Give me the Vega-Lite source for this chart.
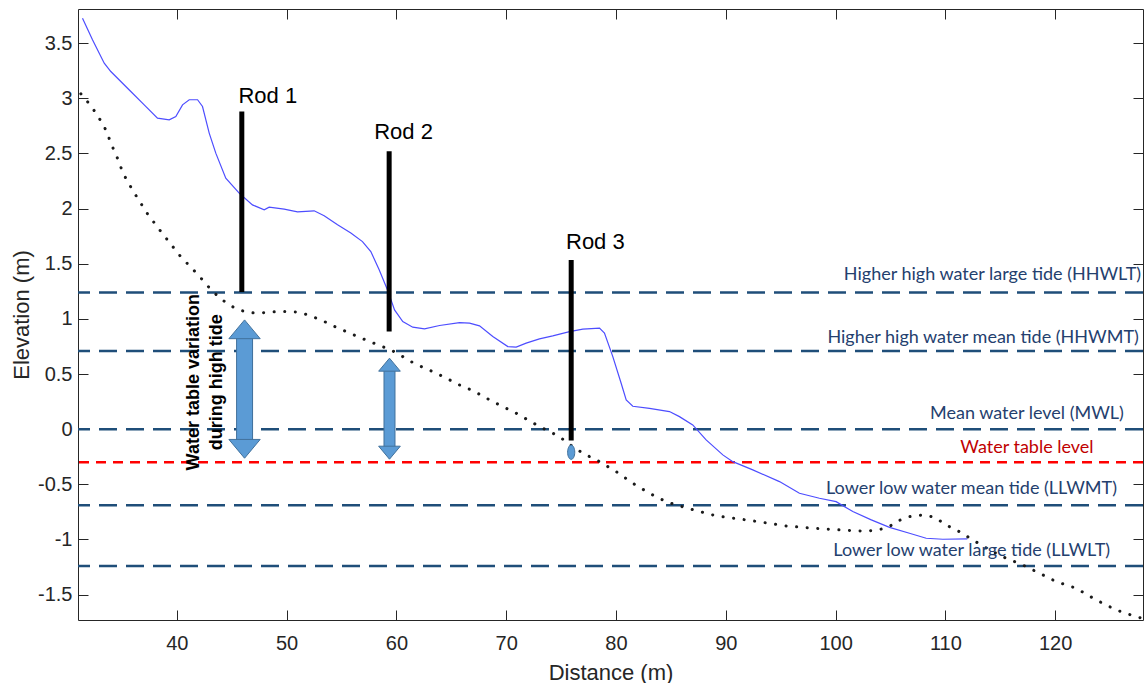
{
  "$schema": "https://vega.github.io/schema/vega-lite/v6.json",
  "autosize": {"type": "none"},
  "padding": {"left": 78, "top": 9, "right": 1, "bottom": 63},
  "width": 1065,
  "height": 611,
  "background": "white",
  "config": {
    "view": {"stroke": null},
    "axis": {
      "grid": false,
      "domainColor": "#262626",
      "tickColor": "#262626",
      "labelColor": "#262626",
      "titleColor": "#262626",
      "labelFont": "Liberation Sans",
      "titleFont": "Liberation Sans",
      "labelFontSize": 20,
      "titleFontSize": 22,
      "titleFontWeight": "normal",
      "tickSize": -10,
      "domainWidth": 1,
      "tickWidth": 1
    }
  },
  "datasets": {
    "profile": [
      {"x":31.41,"y":3.727},{"x":32.32,"y":3.531},{"x":33.39,"y":3.319},{"x":33.99,"y":3.243},{"x":35.81,"y":3.062},{"x":37.03,"y":2.941},{"x":38.24,"y":2.820},{"x":39.31,"y":2.805},{"x":39.91,"y":2.835},{"x":40.52,"y":2.941},{"x":41.13,"y":2.987},{"x":41.89,"y":2.987},{"x":42.34,"y":2.926},{"x":42.95,"y":2.685},{"x":43.55,"y":2.503},{"x":44.46,"y":2.276},{"x":45.68,"y":2.140},{"x":46.89,"y":2.034},{"x":47.96,"y":1.989},{"x":48.41,"y":2.013},{"x":49.78,"y":1.995},{"x":50.99,"y":1.971},{"x":52.51,"y":1.980},{"x":53.42,"y":1.935},{"x":54.64,"y":1.853},{"x":55.85,"y":1.778},{"x":56.91,"y":1.701},{"x":57.67,"y":1.611},{"x":58.43,"y":1.445},{"x":59.19,"y":1.263},{"x":59.83,"y":1.082},{"x":60.58,"y":0.976},{"x":61.49,"y":0.925},{"x":62.56,"y":0.910},{"x":63.93,"y":0.940},{"x":65.75,"y":0.967},{"x":66.66,"y":0.961},{"x":67.57,"y":0.937},{"x":68.78,"y":0.840},{"x":70.15,"y":0.749},{"x":70.91,"y":0.744},{"x":71.82,"y":0.780},{"x":73.03,"y":0.819},{"x":74.24,"y":0.846},{"x":75.77,"y":0.885},{"x":76.98,"y":0.907},{"x":78.50,"y":0.916},{"x":78.95,"y":0.871},{"x":79.71,"y":0.658},{"x":80.47,"y":0.417},{"x":80.93,"y":0.266},{"x":81.53,"y":0.208},{"x":83.05,"y":0.188},{"x":84.87,"y":0.160},{"x":85.78,"y":0.114},{"x":86.99,"y":0.039},{"x":88.21,"y":-0.097},{"x":89.73,"y":-0.233},{"x":90.64,"y":-0.294},{"x":92.46,"y":-0.369},{"x":94.89,"y":-0.475},{"x":96.71,"y":-0.581},{"x":98.53,"y":-0.626},{"x":100.05,"y":-0.657},{"x":101.57,"y":-0.747},{"x":103.2,"y":-0.82},{"x":104.91,"y":-0.89},{"x":106.73,"y":-0.943},{"x":108.25,"y":-0.989},{"x":109.77,"y":-0.998},{"x":112.0,"y":-0.995}
    ],
    "watertable": [
      {"x":31.26,"y":3.041},{"x":31.93,"y":2.962},{"x":32.53,"y":2.881},{"x":33.02,"y":2.805},{"x":33.39,"y":2.744},{"x":33.75,"y":2.660},{"x":33.99,"y":2.594},{"x":34.66,"y":2.442},{"x":35.05,"y":2.334},{"x":35.51,"y":2.246},{"x":36.42,"y":2.095},{"x":37.33,"y":1.953},{"x":38.31,"y":1.823},{"x":39.31,"y":1.696},{"x":40.28,"y":1.574},{"x":41.13,"y":1.484},{"x":41.95,"y":1.399},{"x":42.80,"y":1.300},{"x":43.70,"y":1.209},{"x":44.74,"y":1.127},{"x":45.56,"y":1.088},{"x":46.32,"y":1.061},{"x":47.23,"y":1.052},{"x":48.14,"y":1.058},{"x":49.20,"y":1.067},{"x":50.11,"y":1.067},{"x":51.02,"y":1.061},{"x":51.93,"y":1.037},{"x":52.70,"y":1.007},{"x":53.45,"y":0.976},{"x":54.36,"y":0.931},{"x":55.43,"y":0.885},{"x":56.48,"y":0.840},{"x":57.55,"y":0.795},{"x":58.76,"y":0.748},{"x":59.67,"y":0.710},{"x":60.58,"y":0.658},{"x":61.49,"y":0.604},{"x":62.40,"y":0.562},{"x":63.62,"y":0.508},{"x":64.84,"y":0.447},{"x":66.05,"y":0.386},{"x":66.96,"y":0.350},{"x":68.78,"y":0.250},{"x":70.91,"y":0.145},{"x":73.03,"y":0.024},{"x":74.85,"y":-0.067},{"x":75.61,"y":-0.127},{"x":76.98,"y":-0.218},{"x":78.50,"y":-0.294},{"x":80.02,"y":-0.385},{"x":81.53,"y":-0.490},{"x":83.05,"y":-0.581},{"x":84.57,"y":-0.657},{"x":85.78,"y":-0.696},{"x":87.30,"y":-0.738},{"x":89.13,"y":-0.786},{"x":91.25,"y":-0.814},{"x":93.37,"y":-0.844},{"x":95.50,"y":-0.877},{"x":97.92,"y":-0.898},{"x":100.36,"y":-0.913},{"x":102.79,"y":-0.925},{"x":104.0,"y":-0.91},{"x":104.91,"y":-0.883},{"x":105.52,"y":-0.838},{"x":106.73,"y":-0.793},{"x":107.94,"y":-0.777},{"x":109.01,"y":-0.798},{"x":110.07,"y":-0.868},{"x":111.28,"y":-0.929},{"x":112.50,"y":-1.004},{"x":114.02,"y":-1.095},{"x":115.54,"y":-1.170},{"x":117.05,"y":-1.231},{"x":118.57,"y":-1.306},{"x":120.09,"y":-1.382},{"x":121.91,"y":-1.442},{"x":123.73,"y":-1.548},{"x":125.55,"y":-1.639},{"x":127.37,"y":-1.700},{"x":127.92,"y":-1.714}
    ],
    "levels": [
      {"name":"Higher high water large tide (HHWLT)","kind":"tide","value":1.24,"lx":114.29,"ly":1.354},
      {"name":"Higher high water mean tide (HHWMT)","kind":"tide","value":0.71,"lx":113.44,"ly":0.785},
      {"name":"Mean water level (MWL)","kind":"tide","value":0.0,"lx":117.43,"ly":0.09},
      {"name":"Water table level","kind":"water","value":-0.30,"lx":117.43,"ly":-0.212},
      {"name":"Lower low water mean tide (LLWMT)","kind":"tide","value":-0.69,"lx":112.38,"ly":-0.59},
      {"name":"Lower low water large tide (LLWLT)","kind":"tide","value":-1.24,"lx":112.4,"ly":-1.149}
    ],
    "rods": [
      {"rod":"Rod 1","x":45.92,"top":2.88,"bottom":1.245,"lx":48.29,"ly":2.957},
      {"rod":"Rod 2","x":59.34,"top":2.52,"bottom":0.885,"lx":60.65,"ly":2.63},
      {"rod":"Rod 3","x":75.92,"top":1.535,"bottom":-0.103,"lx":78.12,"ly":1.632}
    ],
    "shafts": [
      {"arrow":"A1","x":46.17,"y":0.86,"y2":-0.13},
      {"arrow":"A2","x":59.37,"y":0.53,"y2":-0.17}
    ],
    "heads": [
      {"arrow":"A1","end":"top","x":46.17,"y":0.991},
      {"arrow":"A1","end":"bottom","x":46.17,"y":-0.263},
      {"arrow":"A2","end":"top","x":59.37,"y":0.644},
      {"arrow":"A2","end":"bottom","x":59.37,"y":-0.272}
    ],
    "marker": [{"x":75.92,"y":-0.209}],
    "note": [{"text":"Water table variation\nduring high tide","x":41.55,"y":0.426}]
  },
  "resolve": {
    "axis": {"x": "independent", "y": "independent"},
    "scale": {"size": "independent", "shape": "independent"}
  },
  "layer": [
    {
      "data": {"name": "levels"},
      "transform": [{"filter": "datum.kind === 'tide'"}],
      "mark": {"type": "rule", "color": "#1f4e79", "strokeWidth": 2.5, "strokeDash": [18, 9]},
      "encoding": {
        "y": {
          "field": "value", "type": "quantitative",
          "scale": {"domain": [-1.73, 3.81], "nice": false, "zero": false},
          "axis": {
            "orient": "left",
            "title": "Elevation (m)",
            "values": [-1.5, -1, -0.5, 0, 0.5, 1, 1.5, 2, 2.5, 3, 3.5],
            "labelExpr": "datum.value < 0 ? '-' + format(abs(datum.value), '~g') : format(datum.value, '~g')",
            "labelFontSize": 20,
            "titleFontSize": 22,
            "labelPadding": 16,
            "titlePadding": 4
          }
        }
      }
    },
    {
      "data": {"name": "levels"},
      "transform": [{"filter": "datum.kind === 'water'"}],
      "mark": {"type": "rule", "color": "#ff0000", "strokeWidth": 2.5, "strokeDash": [10, 7]},
      "encoding": {
        "y": {
          "field": "value", "type": "quantitative",
          "axis": {"orient": "right", "labels": false, "title": null, "domain": true,
                   "values": [-1.5, -1, -0.5, 0, 0.5, 1, 1.5, 2, 2.5, 3, 3.5]}
        }
      }
    },
    {
      "data": {"name": "profile"},
      "mark": {"type": "line", "color": "#4d4dff", "strokeWidth": 1.2},
      "encoding": {
        "x": {
          "field": "x", "type": "quantitative",
          "scale": {"domain": [31, 128], "nice": false, "zero": false},
          "axis": {
            "orient": "bottom",
            "title": "Distance (m)",
            "values": [40, 50, 60, 70, 80, 90, 100, 110, 120],
            "labelFontSize": 20,
            "titleFontSize": 22,
            "labelPadding": 23,
            "titlePadding": 9
          }
        },
        "y": {"field": "y", "type": "quantitative", "axis": null}
      }
    },
    {
      "data": {"name": "watertable"},
      "mark": {"type": "line", "color": "#1a1a1a", "strokeWidth": 3, "strokeDash": [0.1, 10.5], "strokeCap": "round"},
      "encoding": {
        "x": {
          "field": "x", "type": "quantitative",
          "axis": {"orient": "top", "labels": false, "title": null, "domain": true,
                   "values": [40, 50, 60, 70, 80, 90, 100, 110, 120]}
        },
        "y": {"field": "y", "type": "quantitative", "axis": null}
      }
    },
    {
      "data": {"name": "rods"},
      "mark": {"type": "rule", "color": "black", "strokeWidth": 5},
      "encoding": {
        "x": {"field": "x", "type": "quantitative", "axis": null},
        "y": {"field": "top", "type": "quantitative", "axis": null},
        "y2": {"field": "bottom"}
      }
    },
    {
      "data": {"name": "rods"},
      "mark": {"type": "text", "font": "Liberation Sans", "fontSize": 22, "color": "black", "align": "center", "baseline": "alphabetic"},
      "encoding": {
        "x": {"field": "lx", "type": "quantitative", "axis": null},
        "y": {"field": "ly", "type": "quantitative", "axis": null},
        "text": {"field": "rod"}
      }
    },
    {
      "data": {"name": "shafts"},
      "mark": {"type": "rule", "color": "#41719c"},
      "encoding": {
        "x": {"field": "x", "type": "quantitative", "axis": null},
        "y": {"field": "y", "type": "quantitative", "axis": null},
        "y2": {"field": "y2"},
        "size": {"field": "arrow", "type": "nominal", "scale": {"domain": ["A1", "A2"], "range": [17, 12]}, "legend": null}
      }
    },
    {
      "data": {"name": "shafts"},
      "mark": {"type": "rule", "color": "#5b9bd5"},
      "encoding": {
        "x": {"field": "x", "type": "quantitative", "axis": null},
        "y": {"field": "y", "type": "quantitative", "axis": null},
        "y2": {"field": "y2"},
        "size": {"field": "arrow", "type": "nominal", "scale": {"domain": ["A1", "A2"], "range": [15, 10]}, "legend": null}
      }
    },
    {
      "data": {"name": "heads"},
      "mark": {"type": "point", "filled": true, "fill": "#5b9bd5", "stroke": "#41719c", "strokeWidth": 1, "opacity": 1},
      "encoding": {
        "x": {"field": "x", "type": "quantitative", "axis": null},
        "y": {"field": "y", "type": "quantitative", "axis": null},
        "shape": {"field": "end", "type": "nominal", "scale": {"domain": ["top", "bottom"], "range": ["M0,0L1,1.2L-1,1.2Z", "M0,0L1,-1.2L-1,-1.2Z"]}, "legend": null},
        "size": {"field": "arrow", "type": "nominal", "scale": {"domain": ["A1", "A2"], "range": [980, 470]}, "legend": null}
      }
    },
    {
      "data": {"name": "marker"},
      "mark": {"type": "point", "filled": true, "fill": "#5b9bd5", "stroke": "#41719c", "strokeWidth": 1, "opacity": 1, "size": 205, "shape": "M0,-1A0.5,1,0,1,1,0,1A0.5,1,0,1,1,0,-1Z"},
      "encoding": {
        "x": {"field": "x", "type": "quantitative", "axis": null},
        "y": {"field": "y", "type": "quantitative", "axis": null}
      }
    },
    {
      "data": {"name": "levels"},
      "mark": {"type": "text", "font": "Lato", "fontSize": 18, "align": "center", "baseline": "alphabetic"},
      "encoding": {
        "x": {"field": "lx", "type": "quantitative", "axis": null},
        "y": {"field": "ly", "type": "quantitative", "axis": null},
        "text": {"field": "name"},
        "color": {"condition": {"test": "datum.kind === 'water'", "value": "#c00000"}, "value": "#24406e"}
      }
    },
    {
      "data": {"name": "note"},
      "mark": {"type": "text", "font": "Liberation Sans", "fontSize": 18, "fontWeight": "bold", "angle": 270, "align": "center", "baseline": "middle", "lineBreak": "\n", "lineHeight": 23, "color": "black"},
      "encoding": {
        "x": {"field": "x", "type": "quantitative", "axis": null},
        "y": {"field": "y", "type": "quantitative", "axis": null},
        "text": {"field": "text"}
      }
    }
  ]
}
